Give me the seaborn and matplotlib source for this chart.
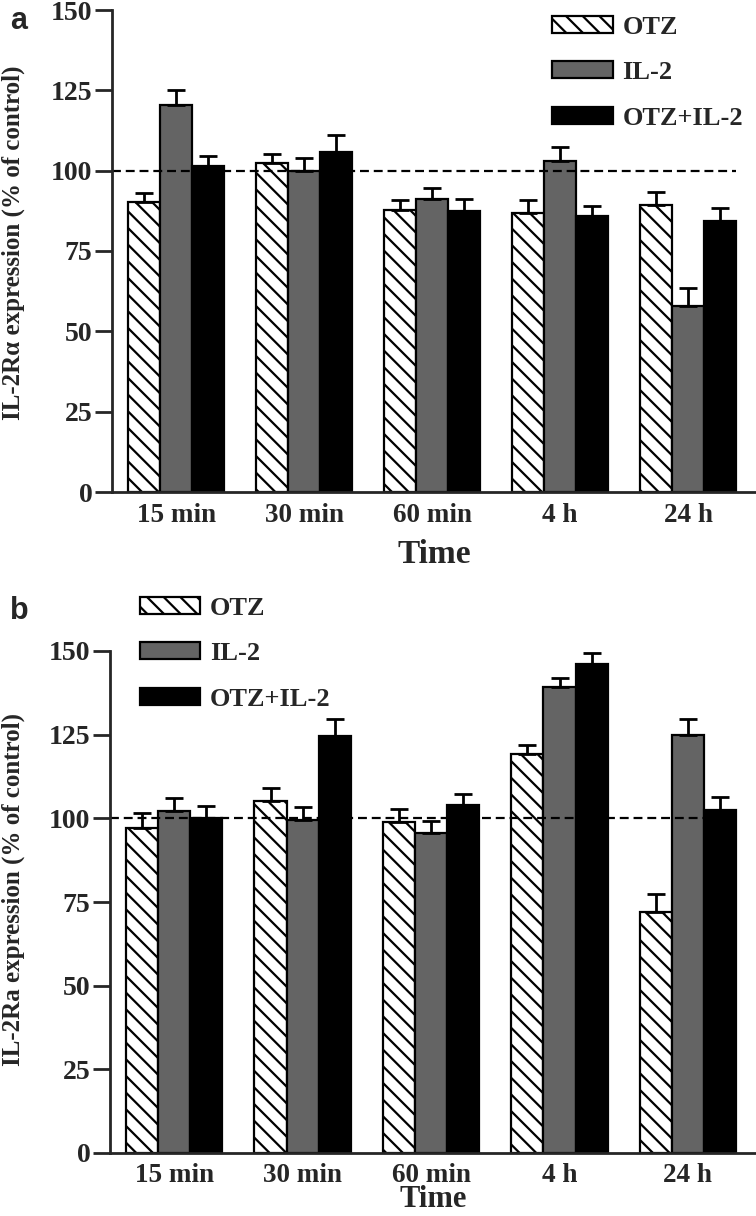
import numpy as np
import pandas as pd
import matplotlib
matplotlib.use("Agg")
import matplotlib.pyplot as plt
from matplotlib.container import BarContainer
import seaborn as sns

sns.set_style("ticks")
plt.rcParams['font.family'] = ['Liberation Serif', 'DejaVu Serif']
plt.rcParams['font.weight'] = 'bold'
plt.rcParams['hatch.linewidth'] = 1.6

times = ["15 min", "30 min", "60 min", "4 h", "24 h"]
treatments = ["OTZ", "IL-2", "OTZ+IL-2"]

# Panel a values (mean, upper error)
a_otz = [90.3, 102.4, 87.8, 86.9, 89.4]
a_il2 = [120.5, 99.9, 91.2, 103.0, 58.0]
a_combo = [101.5, 105.8, 87.5, 85.9, 84.4]
a_otz_err = [2.6, 2.8, 3.1, 4.0, 4.0]
a_il2_err = [4.7, 4.1, 3.4, 4.4, 5.5]
a_combo_err = [3.1, 5.2, 3.7, 3.1, 4.0]

# Panel b values
b_otz = [97.0, 105.1, 98.8, 119.2, 72.0]
b_il2 = [102.1, 99.4, 95.5, 139.2, 124.8]
b_combo = [100.0, 124.5, 103.9, 146.1, 102.4]
b_otz_err = [4.5, 3.9, 3.9, 2.7, 5.5]
b_il2_err = [3.9, 3.9, 3.6, 2.7, 4.8]
b_combo_err = [3.6, 5.1, 3.3, 3.3, 3.9]

yticks = [0, 25, 50, 75, 100, 125, 150]

colors = ["white", "#646464", "black"]
hatches = ["\\\\", "", ""]

fig = plt.figure(figsize=(7.56, 12.16), dpi=100)
ax_a = fig.add_axes([112/756, 1-492/1216, 1-112/756, 482/1216])
ax_b = fig.add_axes([110/756, 1-1153/1216, 1-110/756, 502/1216])


def make_df(vals, errs):
    rows = []
    for t, v, e in zip(treatments, vals, errs):
        for tm, vv, ee in zip(times, v, e):
            rows.append({"Time": tm, "Treatment": t, "value": vv, "err": ee})
    return pd.DataFrame(rows)


def draw(ax, vals, errs, ylabel, legend_anchor, ylab_xy, xlpad, xlsize, xpad):
    df = make_df(vals, errs)
    sns.barplot(data=df, x="Time", y="value", hue="Treatment",
                order=times, hue_order=treatments, palette=colors,
                width=0.75, errorbar=None, edgecolor="black", linewidth=1.6,
                ax=ax, legend=False)
    bar_conts = [c for c in ax.containers if isinstance(c, BarContainer)]
    for ci, cont in enumerate(bar_conts):
        xs, hs = [], []
        for bar in cont.patches:
            bar.set_hatch(hatches[ci])
            bar.set_edgecolor("black")
            xs.append(bar.get_x() + bar.get_width() / 2)
            hs.append(bar.get_height())
        e = df[df.Treatment == treatments[ci]].set_index("Time").loc[times, "err"].values
        ax.errorbar(xs, hs, yerr=[np.zeros(len(e)), e], fmt="none",
                    ecolor="black", elinewidth=2, capsize=6.5, capthick=2,
                    zorder=1)
    ax.hlines(100, -0.5, 4.375, colors="black", linestyles=(0, (4, 2.2)),
              linewidth=1.6, zorder=5)
    ax.set_xlim(-0.5, 4.53)
    ax.set_ylim(0, 150)
    ax.set_yticks(yticks)
    ax.set_yticklabels([str(t) for t in yticks], fontsize=20, fontweight="bold")
    ax.set_xticks(range(len(times)))
    ax.set_xticklabels(times, fontsize=19.5, fontweight="bold")
    ax.tick_params(axis="x", length=0, pad=xpad)
    ax.tick_params(axis="y", length=12, width=2, pad=2)
    for s in ["top", "right"]:
        ax.spines[s].set_visible(False)
    for s in ["left", "bottom"]:
        ax.spines[s].set_linewidth(2)
    ax.spines["left"].set_zorder(6)
    ax.set_ylabel(ylabel, fontsize=18, fontweight="bold")
    ax.yaxis.set_label_coords(*ylab_xy)
    ax.set_xlabel("Time", fontsize=xlsize, fontweight="bold", labelpad=xlpad)
    handles = [c.patches[0] for c in bar_conts]
    leg = ax.legend(handles, treatments, loc="upper left",
                    bbox_to_anchor=legend_anchor, frameon=False,
                    prop={"size": 19, "weight": "bold", "family": "Liberation Serif"},
                    handlelength=2.3, handleheight=0.62, handletextpad=0.35,
                    labelspacing=0.85, borderaxespad=0, borderpad=0)
    return leg


draw(ax_a, [a_otz, a_il2, a_combo], [a_otz_err, a_il2_err, a_combo_err],
     "IL-2R\u03b1 expression (% of control)", (0.684, 0.988),
     ((25-112)/644, 0.517), 8, 24, 8)
draw(ax_b, [b_otz, b_il2, b_combo], [b_otz_err, b_il2_err, b_combo_err],
     "IL-2Ra expression (% of control)", (0.046, 1.108),
     ((25-110)/646, 0.524), -2, 22, 7)

fig.text(10/756, 1-6/1216, "a", fontsize=22, fontweight="bold",
         family="Liberation Sans", va="top", ha="left")
fig.text(10/756, 1-596/1216, "b", fontsize=22, fontweight="bold",
         family="Liberation Sans", va="top", ha="left")

fig.savefig("out.png", dpi=100)
